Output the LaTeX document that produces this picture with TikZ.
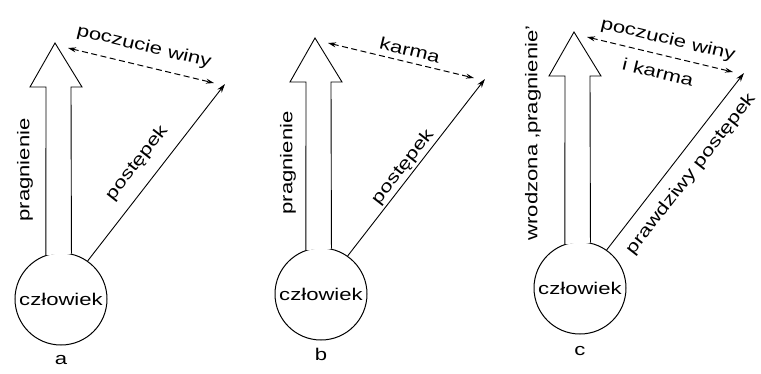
\documentclass[tikz,border=0pt]{standalone}
\usepackage{fontspec}
\setmainfont{Liberation Sans}[FakeStretch=1.3]
\usetikzlibrary{arrows.meta}
\tikzset{
  person/.style={circle, draw, line width=1pt, minimum size=92pt, inner sep=0pt},
  lbl/.style={font=\fontsize{17}{20}\selectfont, inner sep=1pt},
  hollow/.style={draw, line width=0.9pt, fill=white, line join=miter},
  deed/.style={draw, line width=0.9pt, -{Stealth[length=9pt,width=5.5pt]}},
  feel/.style={draw, line width=1pt, dash pattern=on 6pt off 3.5pt,
    {Stealth[length=8pt,width=5pt]}-{Stealth[length=8pt,width=5pt]}},
}
\begin{document}
\begin{tikzpicture}[x=1pt,y=-1pt]
\useasboundingbox (0,0) rectangle (761,373);
% ---------- panel a ----------
\begin{scope}[shift={(61,299)}]
  \node[person] (hA) at (0,0) {};
  \node[lbl] (nA) at (0,0) {człowiek};
  \coordinate (tA) at (-6,-256);
  \draw[hollow] (hA.109) -- (-15,-212) -- (-31,-212) -- (tA) -- (21,-212) -- (10,-212) -- (hA.77);
  \coordinate (dA) at (164,-215);
  \draw[deed] (hA.55) -- (dA);
  \coordinate (fA1) at (7,-251);
  \coordinate (fA2) at (153,-216);
  \draw[feel] (fA1) -- (fA2);
  \node[lbl, rotate=90] (pA) at (-36,-129) {pragnienie};
  \node[lbl, rotate=52] (sA) at (76,-136) {postępek};
  \node[lbl, rotate=-13.5] (wA) at (83,-252) {poczucie winy};
  \node[lbl] (LA) at (0,61) {a};
\end{scope}
% ---------- panel b ----------
\begin{scope}[shift={(321,294)}]
  \node[person] (hB) at (0,0) {};
  \node[lbl] (nB) at (0,0) {człowiek};
  \coordinate (tB) at (-6,-256);
  \draw[hollow] (hB.109) -- (-15,-212) -- (-31,-212) -- (tB) -- (21,-212) -- (10,-212) -- (hB.77);
  \coordinate (dB) at (164,-215);
  \draw[deed] (hB.55) -- (dB);
  \coordinate (fB1) at (7,-251);
  \coordinate (fB2) at (153,-216);
  \draw[feel] (fB1) -- (fB2);
  \node[lbl, rotate=90] (pB) at (-33,-131) {pragnienie};
  \node[lbl, rotate=52] (sB) at (82,-127) {postępek};
  \node[lbl, rotate=-13.5] (kB) at (89,-244) {karma};
  \node[lbl] (LB) at (0,60) {b};
\end{scope}
% ---------- panel c ----------
\begin{scope}[shift={(580,288)}]
  \node[person] (hC) at (0,0) {};
  \node[lbl] (nC) at (0,0) {człowiek};
  \coordinate (tC) at (-6,-256);
  \draw[hollow] (hC.109) -- (-15,-212) -- (-31,-212) -- (tC) -- (21,-212) -- (10,-212) -- (hC.77);
  \coordinate (dC) at (164,-215);
  \draw[deed] (hC.55) -- (dC);
  \coordinate (fC1) at (7,-251);
  \coordinate (fC2) at (153,-216);
  \draw[feel] (fC1) -- (fC2);
  \node[lbl, rotate=90] (pC) at (-47,-155) {wrodzona ‚pragnienie’};
  \node[lbl, rotate=52] (sC) at (111,-114) {prawdziwy postępek};
  \node[lbl, rotate=-13.5] (wC) at (88,-248) {poczucie winy};
  \node[lbl, rotate=-13.5] (kC) at (78,-216) {i karma};
  \node[lbl] (LC) at (0,63) {c};
\end{scope}
\end{tikzpicture}
\end{document}
